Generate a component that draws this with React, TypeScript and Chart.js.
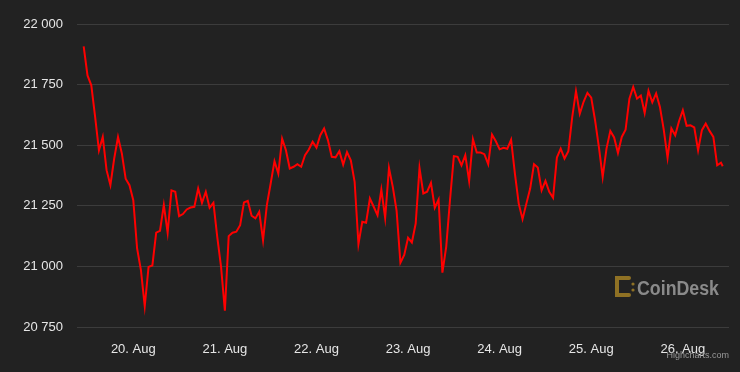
import React, { useEffect, useRef } from 'react';
import { Chart, registerables } from 'chart.js';

Chart.register(...registerables);

// Tick labels (one per day, ticks every 24 hours from 20 Aug 00:00)
const dayLabels = ['20. Aug', '21. Aug', '22. Aug', '23. Aug', '24. Aug', '25. Aug', '26. Aug'];
const yTickValues = [20750, 21000, 21250, 21500, 21750, 22000];

// Time of the first hourly sample, in hours relative to 20 Aug 00:00
const firstHour = -13;
// Time of the last (live) sample
const lastHour = 154.45;

// Hourly BTC price (USD)
const prices = [
  21908, 21788, 21747, 21617, 21479, 21534, 21397, 21335, 21445, 21534, 21466, 21362, 21335, 21273, 21074, 20985,
  20836, 20998, 21004, 21139, 21147, 21253, 21139, 21314, 21308, 21207, 21216, 21235, 21243, 21246, 21321, 21262,
  21308,
  21242, 21262, 21122, 20998, 20817, 21125, 21139, 21143, 21170, 21264, 21270, 21209, 21198, 21225, 21108, 21253,
  21342, 21434, 21383, 21527, 21479, 21404, 21411, 21422, 21411, 21459, 21482, 21514, 21490, 21541, 21569, 21521,
  21452, 21450,
  21475, 21420, 21472, 21438, 21349, 21092, 21184, 21180, 21280, 21246, 21211, 21317, 21200, 21406, 21328, 21229,
  21015, 21047, 21118, 21099, 21177, 21406, 21301, 21308, 21345, 21242, 21276, 20974, 21081, 21276, 21455, 21452,
  21417,
  21459, 21352, 21525, 21470, 21470, 21463, 21422, 21544, 21516, 21483, 21489, 21485, 21523, 21383, 21259, 21195,
  21259, 21321, 21422, 21408, 21314, 21353, 21308, 21283, 21449, 21486, 21445, 21475, 21614, 21723, 21630, 21679,
  21716,
  21696, 21603, 21493, 21369, 21486, 21559, 21532, 21468, 21534, 21564, 21692, 21740, 21692, 21705, 21633, 21724,
  21677, 21713, 21658, 21564, 21448, 21569, 21541, 21599, 21644, 21580, 21582, 21573, 21479, 21562, 21589, 21559,
  21534, 21417, 21428, 21413,
];

const fmt = (v: number) => String(v).replace(/\B(?=(\d{3})+(?!\d))/g, ' ');

const bgPlugin = {
  id: 'bg',
  beforeDraw(chart: any) {
    const ctx = chart.ctx;
    ctx.save();
    ctx.fillStyle = '#222222';
    ctx.fillRect(0, 0, chart.width, chart.height);
    ctx.restore();
  },
};

const brandPlugin = {
  id: 'brand',
  afterDatasetsDraw(chart: any) {
    const ctx = chart.ctx;
    const ca = chart.chartArea;
    ctx.save();
    // CoinDesk watermark
    const ix = ca.right - 114;
    const iy = ca.bottom - 51;
    ctx.strokeStyle = '#8f7124';
    ctx.fillStyle = '#8f7124';
    ctx.lineWidth = 4;
    ctx.lineCap = 'round';
    ctx.beginPath();
    ctx.moveTo(ix + 14, iy + 2);
    ctx.lineTo(ix + 2, iy + 2);
    ctx.lineTo(ix + 2, iy + 19);
    ctx.lineTo(ix + 14, iy + 19);
    ctx.stroke();
    ctx.beginPath();
    ctx.arc(ix + 18, iy + 8, 1.6, 0, Math.PI * 2);
    ctx.arc(ix + 18, iy + 14, 1.6, 0, Math.PI * 2);
    ctx.fill();
    ctx.fillStyle = '#8a8a8a';
    ctx.font = 'bold 20px "Liberation Sans", Arial, sans-serif';
    ctx.textAlign = 'left';
    ctx.textBaseline = 'alphabetic';
    ctx.fillText('CoinDesk', ix + 22, iy + 19, 82);
    // Credits
    ctx.fillStyle = '#999999';
    ctx.font = '9px "Liberation Sans", Arial, sans-serif';
    ctx.textAlign = 'right';
    ctx.fillText('Highcharts.com', chart.width - 11, chart.height - 14);
    ctx.restore();
  },
};

export default function App() {
  const ref = useRef<HTMLCanvasElement>(null);
  useEffect(() => {
    if (!ref.current) return;
    const data = prices.map((p, i) => ({
      x: i === prices.length - 1 ? lastHour : firstHour + i,
      y: p,
    }));
    const chart = new Chart(ref.current, {
      type: 'line',
      data: {
        datasets: [
          {
            data,
            borderColor: '#ff0000',
            borderWidth: 2,
            pointRadius: 0,
            tension: 0,
            fill: false,
          },
        ],
      },
      plugins: [bgPlugin, brandPlugin],
      options: {
        animation: false,
        responsive: false,
        maintainAspectRatio: false,
        layout: { padding: { top: 24, right: 11, left: 0, bottom: 0 } },
        plugins: { legend: { display: false }, tooltip: { enabled: false } },
        scales: {
          x: {
            type: 'linear',
            min: -14.75,
            max: 156.1,
            grid: { display: false },
            border: { display: false },
            afterBuildTicks: (scale: any) => {
              scale.ticks = dayLabels.map((_, i) => ({ value: i * 24 }));
            },
            afterFit: (scale: any) => {
              scale.height = 45;
            },
            ticks: {
              autoSkip: false,
              maxRotation: 0,
              padding: 7,
              color: '#e6e6e6',
              font: { family: '"Liberation Sans", Arial, sans-serif', size: 13 },
              callback: (v: any) => dayLabels[Math.round(Number(v) / 24)] ?? '',
            },
          },
          y: {
            type: 'linear',
            min: 20750,
            max: 22000,
            grid: { color: '#3c3c3c', lineWidth: 1, drawTicks: false },
            border: { display: false },
            afterBuildTicks: (scale: any) => {
              scale.ticks = yTickValues.map((v) => ({ value: v }));
            },
            afterFit: (scale: any) => {
              scale.width = 77;
            },
            ticks: {
              padding: 14,
              color: '#e6e6e6',
              font: { family: '"Liberation Sans", Arial, sans-serif', size: 13 },
              callback: (v: any) => fmt(Number(v)),
            },
          },
        },
      },
    });
    return () => chart.destroy();
  }, []);
  return (
    <div style={{ position: 'fixed', left: 0, top: 0, width: 740, height: 372, background: '#222222' }}>
      <canvas ref={ref} width={740} height={372} style={{ display: 'block', width: 740, height: 372 }} />
    </div>
  );
}
